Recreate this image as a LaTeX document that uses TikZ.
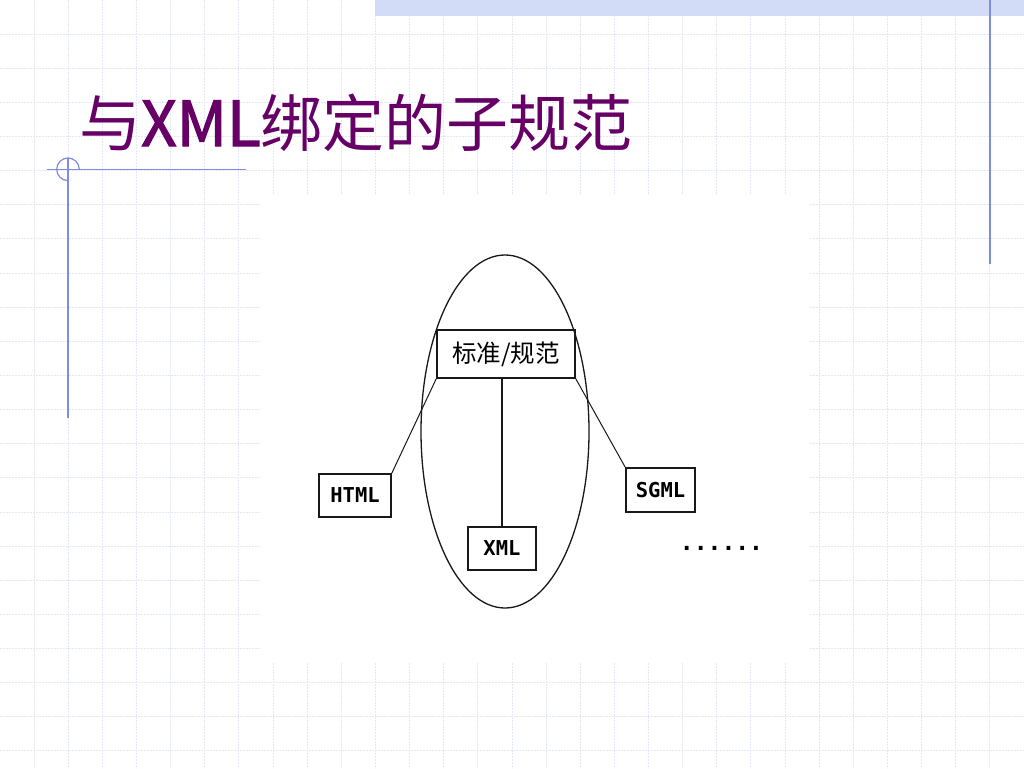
\documentclass[tikz,border=0pt]{standalone}
\usepackage{fontspec}
\usetikzlibrary{shapes.geometric}
\newfontfamily\cjk{Noto Sans CJK SC}
\newfontfamily\cjkbold[FakeBold=2]{Noto Sans CJK SC}
\newfontfamily\monob{DejaVu Sans Mono}
\definecolor{gridc}{RGB}{228,231,248}
\definecolor{barc}{RGB}{210,220,247}
\definecolor{decoc}{RGB}{128,140,222}
\definecolor{titlec}{RGB}{102,0,102}
\definecolor{inkc}{RGB}{25,25,25}
\tikzset{
  gridline/.style={gridc, line width=1pt, dash pattern=on 2pt off 1pt},
  deco/.style={decoc, line width=1.2pt},
  bigbox/.style={draw=inkc, line width=1.6pt, inner sep=0pt, minimum width=138pt, minimum height=48pt, font=\cjk\fontsize{24.5}{24.5}\selectfont},
  smallbox/.style={draw=inkc, line width=1.6pt, inner sep=0pt, font=\monob\bfseries\fontsize{20.5}{20.5}\selectfont},
  link/.style={inkc, line width=1pt},
  oval/.style={ellipse, draw=inkc, line width=1.3pt, inner sep=0pt, minimum width=168pt, minimum height=353pt},
}
\begin{document}
\begin{tikzpicture}[x=1pt,y=-1pt]
\useasboundingbox (0,0) rectangle (1024,768);
\fill[white] (0,0) rectangle (1024,768);
% grid
\foreach \k in {1,...,29} {
  \draw[gridline] ({\k*34.133},0) -- ({\k*34.133},768);
}
\foreach \k in {1,...,22} {
  \draw[gridline] (0,{\k*34.133}) -- (1024,{\k*34.133});
}
% top bar
\fill[barc] (375,0) rectangle (1024,16);
% white picture area
\fill[white] (260,195) rectangle (810,662);
% decorations
\draw[deco] (989.9,0) -- (989.9,264);
\draw[deco] (46.5,169.3) -- (246,169.3);
\draw[deco] (68,158) -- (68,418);
\draw[deco] (68,169.3) ++(0,11.3) arc[start angle=90, end angle=360, radius=11.3];
% title
\node[anchor=base west, inner sep=0pt, text=titlec, font=\cjk\fontsize{62}{62}\selectfont] (title) at (79,146) {与{\cjkbold XML}绑定的子规范};
% diagram
\node[oval] (oval) at (505,431.5) {};
\node[bigbox] (std) at (506,354) {标准/规范};
\node[smallbox, minimum width=72pt, minimum height=43pt] (html) at (355,495.5) {HTML};
\node[smallbox, minimum width=69pt, minimum height=44pt] (sgml) at (660.5,490) {SGML};
\node[smallbox, minimum width=68pt, minimum height=43pt] (xml) at (502,548.5) {XML};
\draw[link] (std.south west) -- (html.north east);
\draw[link] (std.south east) -- (sgml.north west);
\draw[link, line width=1.4pt] (std.south -| xml.north) -- (xml.north);
\node[anchor=base, inner sep=0pt, font=\monob\bfseries\fontsize{23}{23}\selectfont] (more) at (721.5,550) {......};
\end{tikzpicture}
\end{document}
